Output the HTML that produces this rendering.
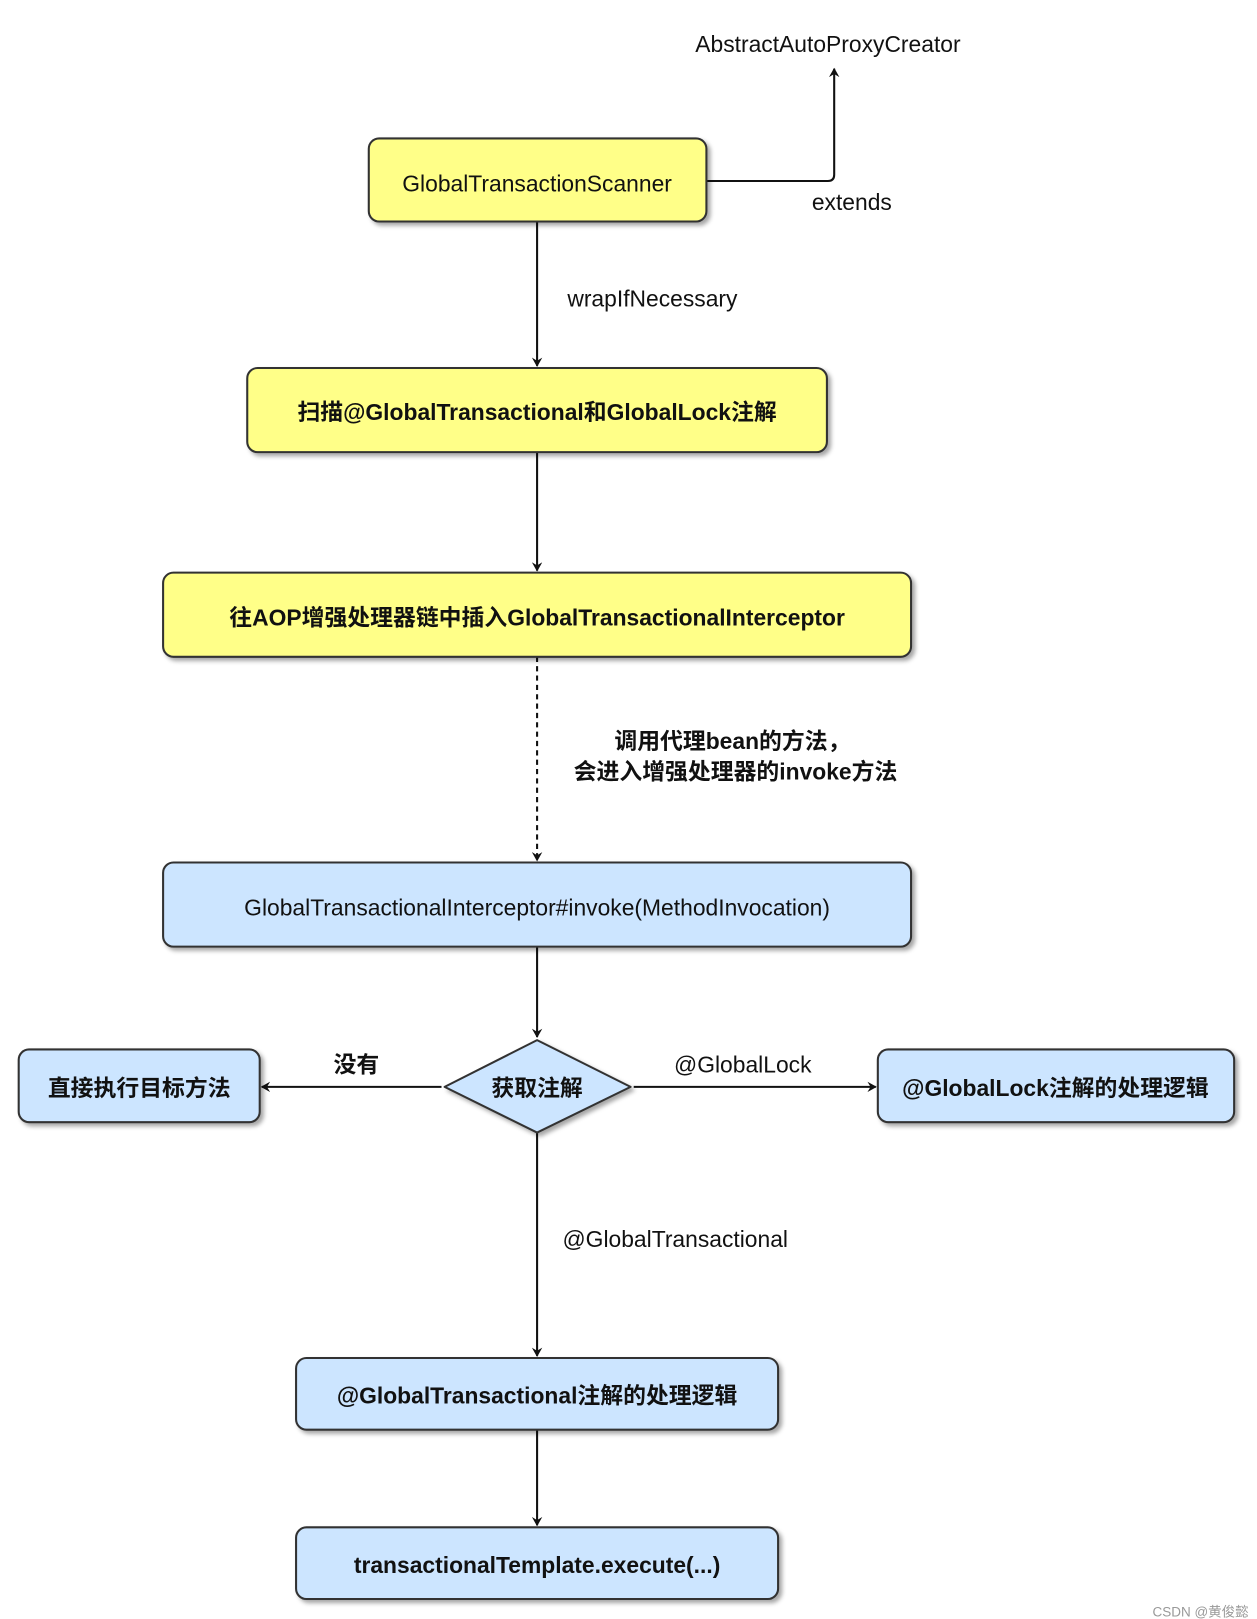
<!DOCTYPE html>
<html><head><meta charset="utf-8"><style>
html,body{margin:0;padding:0;background:#fff;}
svg{display:block;}
text{font-family:"Liberation Sans","Noto Sans CJK SC",sans-serif;fill:#111;}
</style></head><body>
<svg width="1257" height="1619" viewBox="0 0 1210 1558" xmlns="http://www.w3.org/2000/svg">
<defs>
<marker id="a" markerWidth="10" markerHeight="10" refX="8" refY="5" orient="auto" markerUnits="userSpaceOnUse"><path d="M0,0 L9,5 L0,10 L3,5 Z" fill="#111"/></marker>
<filter id="s" x="-5%" y="-10%" width="110%" height="130%"><feDropShadow dx="3" dy="3" stdDeviation="2" flood-color="#000" flood-opacity="0.35"/></filter>
</defs>
<g stroke="#111" stroke-width="2" fill="none">
<path d="M680,174 H797 Q803,174 803,168 V66" marker-end="url(#a)"/>
<path d="M517,213 V352" marker-end="url(#a)"/>
<path d="M517,435 V549" marker-end="url(#a)"/>
<path d="M517,632 V828" stroke-dasharray="5,4" marker-end="url(#a)"/>
<path d="M517,911 V998" marker-end="url(#a)"/>
<path d="M425,1046 H252" marker-end="url(#a)"/>
<path d="M610,1046 H843" marker-end="url(#a)"/>
<path d="M517,1090 V1305" marker-end="url(#a)"/>
<path d="M517,1376 V1468" marker-end="url(#a)"/>
</g>
<g stroke="#333" stroke-width="2" filter="url(#s)">
<rect x="355" y="133" width="325" height="80" rx="10" fill="#ffff88"/>
<rect x="238" y="354" width="558" height="81" rx="10" fill="#ffff88"/>
<rect x="157" y="551" width="720" height="81" rx="10" fill="#ffff88"/>
<rect x="157" y="830" width="720" height="81" rx="10" fill="#cce5ff"/>
<path d="M517,1001 L607,1046 L517,1090 L428,1046 Z" fill="#cce5ff" stroke-linejoin="round"/>
<rect x="18" y="1010" width="232" height="70" rx="10" fill="#cce5ff"/>
<rect x="845" y="1010" width="343" height="70" rx="10" fill="#cce5ff"/>
<rect x="285" y="1307" width="464" height="69" rx="10" fill="#cce5ff"/>
<rect x="285" y="1470" width="464" height="69" rx="10" fill="#cce5ff"/>
</g>
<g font-size="22" text-anchor="middle">
<text x="797" y="50">AbstractAutoProxyCreator</text>
<text x="517" y="184">GlobalTransactionScanner</text>
<text x="820" y="202">extends</text>
<text x="628" y="295">wrapIfNecessary</text>
<text x="517" y="404" font-weight="bold">扫描@GlobalTransactional和GlobalLock注解</text>
<text x="517" y="602" font-weight="bold">往AOP增强处理器链中插入GlobalTransactionalInterceptor</text>
<text x="705" y="721" font-weight="bold">调用代理bean的方法，</text>
<text x="708" y="750" font-weight="bold">会进入增强处理器的invoke方法</text>
<text x="517" y="881">GlobalTransactionalInterceptor#invoke(MethodInvocation)</text>
<text x="517" y="1055" font-weight="bold">获取注解</text>
<text x="134" y="1055" font-weight="bold">直接执行目标方法</text>
<text x="343" y="1032" font-weight="bold">没有</text>
<text x="715" y="1032">@GlobalLock</text>
<text x="1016" y="1055" font-weight="bold">@GlobalLock注解的处理逻辑</text>
<text x="650" y="1200">@GlobalTransactional</text>
<text x="517" y="1351" font-weight="bold">@GlobalTransactional注解的处理逻辑</text>
<text x="517" y="1514" font-weight="bold">transactionalTemplate.execute(...)</text>
</g>
<text x="1202" y="1556" font-size="13" text-anchor="end" style="fill:#999">CSDN @黄俊懿</text>
</svg>
</body></html>
